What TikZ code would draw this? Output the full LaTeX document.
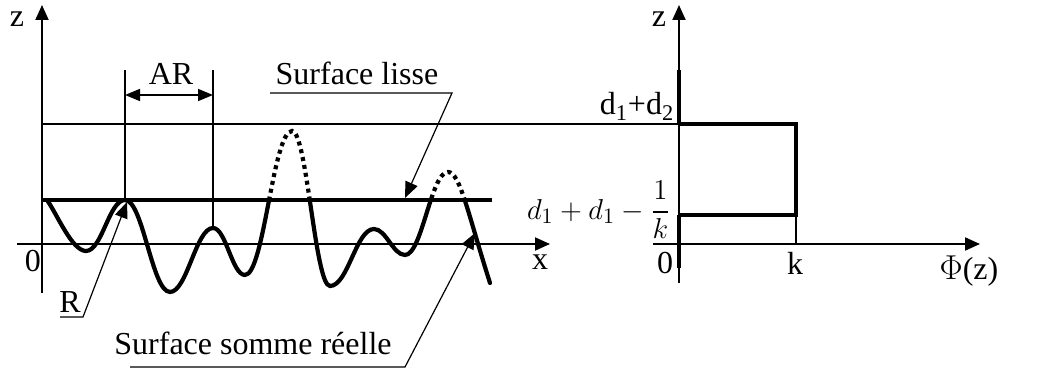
\documentclass[tikz,border=0pt]{standalone}
\usepackage{amsmath}
\usepackage{fontspec}
\setmainfont{Liberation Serif}
\usetikzlibrary{arrows.meta}

\tikzset{
  axis/.style={line width=1pt, -{Triangle[length=7.5pt, width=6.5pt]}},
  thinline/.style={line width=0.6pt},
  thickline/.style={line width=2.1pt},
  leader/.style={line width=0.6pt, -{Triangle[length=8pt, width=6.5pt]}},
  dimarrow/.style={line width=0.8pt, {Triangle[length=7.5pt, width=6pt]}-{Triangle[length=7.5pt, width=6pt]}},
  lbl/.style={inner sep=0pt, anchor=base, font=\fontsize{16}{19}\selectfont},
}

\begin{document}
\begin{tikzpicture}[x=0.5pt, y=0.5pt]
    \useasboundingbox (0,0) rectangle (1037,374);

    % Left axes
    \coordinate (zLbot) at (42,81);
    \coordinate (zLtop) at (42,369);
    \coordinate (xLbeg) at (17,130);
    \coordinate (xLend) at (550,130);
    \draw[axis] (zLbot) -- (zLtop);
    \draw[axis] (xLbeg) -- (xLend);
    \node[lbl] (zL) at (17,347) {z};
    \node[lbl] (oL) at (33,102) {0};
    \node[lbl] (xL) at (540,104) {x};

    % Right axes
    \coordinate (zRbot) at (679,91);
    \coordinate (zRtop) at (679,369);
    \coordinate (phiBeg) at (653,130);
    \coordinate (phiEnd) at (980,130);
    \draw[axis] (zRbot) -- (zRtop);
    \draw[axis] (phiBeg) -- (phiEnd);
    \node[lbl] (zR) at (659,347) {z};
    \node[lbl] (oR) at (665,100) {0};
    \node[lbl] (kR) at (795,99) {k};
    \node[lbl] (phi) at (969,94) {$\Phi$(z)};

    % Level d1+d2
    \coordinate (topL) at (42,250);
    \coordinate (topR) at (679,250);
    \coordinate (boxTR) at (796,250);
    \coordinate (boxBR) at (796,159);
    \coordinate (boxBL) at (679,159);
    \coordinate (boxK) at (796,130);
    \coordinate (axUp) at (679,304);
    \coordinate (axLow) at (679,106);
    \draw[thinline] (topL) -- (topR);
    \draw[thickline, line join=miter] (topR) -- (boxTR) -- (boxBR) -- (boxBL);
    \draw[thinline] (boxBR) -- (boxK);
    \draw[thickline] (axUp) -- (topR);
    \draw[thickline] (boxBL) -- (axLow);
    \node[lbl] (dd) at (637,259) {d\textsubscript{1}+d\textsubscript{2}};
    \node[inner sep=0pt, anchor=east, font=\fontsize{15.5}{18}\selectfont] (frac) at (671,164)
        {$\displaystyle d_1+d_1-\frac{1}{k}$};

    % Surface lisse
    \coordinate (lisseL) at (42,174);
    \coordinate (lisseR) at (492,174);
    \draw[thickline] (lisseL) -- (lisseR);

    % Real surface
    \begin{scope}
        \clip (0,0) rectangle (1037,174);
        \draw[thickline, line cap=round]
            (47,174) .. controls (57,160) and (72,123) .. (86,123)
            .. controls (102,123) and (109,174) .. (125,174)
            .. controls (143,174) and (152,82) .. (170,82)
            .. controls (187,82) and (196,146) .. (213,146)
            .. controls (226,146) and (232,99) .. (245,99)
            .. controls (264,99) and (273,243) .. (292,243)
            .. controls (307,243) and (315,88) .. (330,88)
            .. controls (348,88) and (356,145) .. (374,145)
            .. controls (386,145) and (393,119) .. (405,119)
            .. controls (422,119) and (431,202) .. (448,202)
            .. controls (460,202) and (468,160) .. (490,91);
    \end{scope}
    \begin{scope}
        \clip (0,174) rectangle (1037,374);
        \draw[line width=2.1pt, dash pattern=on 2pt off 2pt]
            (245,99) .. controls (264,99) and (273,243) .. (292,243)
            .. controls (307,243) and (315,88) .. (330,88);
        \draw[line width=2.1pt, dash pattern=on 2pt off 2pt]
            (405,119) .. controls (422,119) and (431,202) .. (448,202)
            .. controls (460,202) and (468,160) .. (490,91);
    \end{scope}

    % AR
    \coordinate (arL) at (125,304);
    \coordinate (arLb) at (125,174);
    \coordinate (arR) at (213,304);
    \coordinate (arRb) at (213,146);
    \coordinate (arA) at (125,279);
    \coordinate (arB) at (213,279);
    \draw[thinline] (arL) -- (arLb);
    \draw[thinline] (arR) -- (arRb);
    \draw[dimarrow] (arA) -- (arB);
    \node[lbl] (ar) at (171,289) {AR};

    % Labels with leaders
    \node[lbl] (sl) at (357,289) {Surface lisse};
    \coordinate (slA) at (270,281);
    \coordinate (slB) at (452,281);
    \coordinate (slTip) at (405,176);
    \draw[leader] (slA) -- (slB) -- (slTip);

    \node[lbl] (rL) at (70,61) {R};
    \coordinate (rA) at (60,57);
    \coordinate (rB) at (83,57);
    \coordinate (rTip) at (127,172);
    \draw[leader] (rA) -- (rB) -- (rTip);

    \node[lbl] (ssr) at (253,19) {Surface somme réelle};
    \coordinate (ssrA) at (130,7);
    \coordinate (ssrB) at (405,7);
    \coordinate (ssrTip) at (475,141);
    \draw[leader] (ssrA) -- (ssrB) -- (ssrTip);
\end{tikzpicture}
\end{document}
